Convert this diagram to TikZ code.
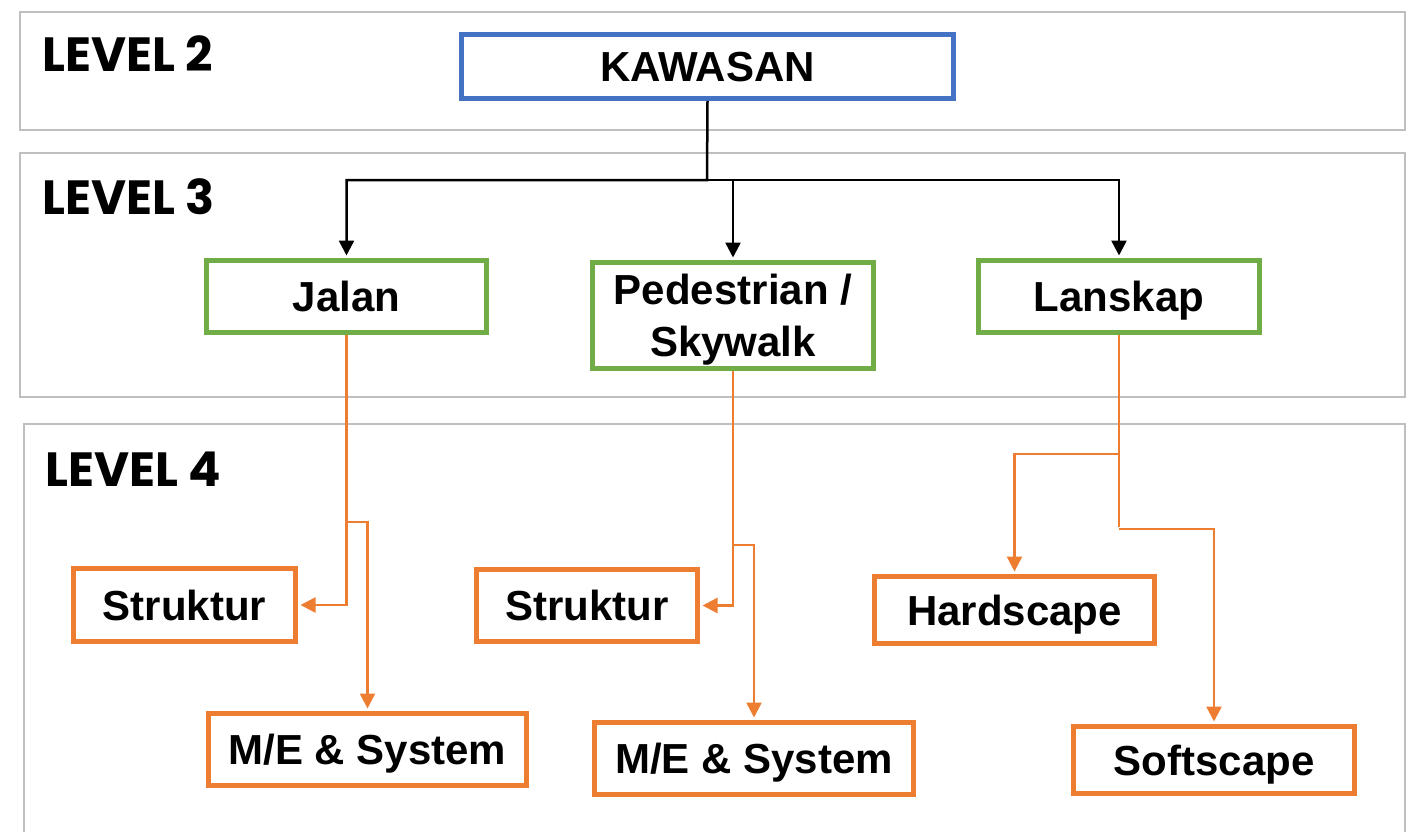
\documentclass[tikz,border=0pt]{standalone}
\usepackage{fontspec}
\setmainfont{Liberation Sans}
\newfontfamily\levelfont{Poppins}
\usepackage{xcolor}
\usepackage{tikz}
\usetikzlibrary{arrows.meta}
\definecolor{kblue}{HTML}{4472C4}
\definecolor{kgreen}{HTML}{70AD47}
\definecolor{korange}{HTML}{ED7D31}
\definecolor{kgray}{HTML}{BFBFBF}
\newcommand{\lvl}[1]{{\levelfont\bfseries\fontsize{48pt}{56pt}\selectfont #1}}

\begin{document}
\begin{tikzpicture}[x=1pt,y=-1pt,
		>={Triangle[length=15pt,width=15pt]},
		panel/.style={rectangle,draw=kgray,line width=1.5pt},
		levelbox/.style={rectangle,line width=5pt,fill=white,inner sep=0pt,
			font=\bfseries\fontsize{42pt}{52pt}\selectfont,text height=30pt,text depth=0pt},
		bluebox/.style={levelbox,draw=kblue},
		greenbox/.style={levelbox,draw=kgreen},
		orangebox/.style={levelbox,draw=korange},
		blackline/.style={draw=black,line width=2.5pt,shorten >=2.5pt},
		orangeline/.style={draw=korange,line width=2.5pt,shorten >=2.5pt}]
			\useasboundingbox (0,0) rectangle (1411,832);
			%panels
			\node at (712.5,71) (paneltwo) [panel, minimum width=1385pt, minimum height=118pt] {};
			\node at (712.5,275) (panelthree) [panel, minimum width=1385pt, minimum height=244pt] {};
			\node at (714.5,640) (panelfour) [panel, minimum width=1381pt, minimum height=432pt] {};
			\node [anchor=base west, inner sep=0pt] at (42,72) (lvltwo) {\lvl{LEVEL 2}};
			\node [anchor=base west, inner sep=0pt] at (42,214) (lvlthree) {\lvl{LEVEL 3}};
			\node [anchor=base west, inner sep=0pt] at (45,486) (lvlfour) {\lvl{LEVEL 4}};

			%level 2
			\node at (707.5,66.5) (kawasan) [bluebox, minimum width=492pt, minimum height=64pt] {KAWASAN};
			%level 3
			\node at (346.5,296.5) (jalan) [greenbox, minimum width=280pt, minimum height=72pt] {Jalan};
			\node at (733,315.5) (pedestrian) [greenbox, minimum width=281pt, minimum height=106pt, text height=82pt, align=center] {Pedestrian /\\Skywalk};
			\node at (1119,296.5) (lanskap) [greenbox, minimum width=281pt, minimum height=72pt] {Lanskap};
			%level 4
			\node at (184.5,605) (strukturjalan) [orangebox, minimum width=222pt, minimum height=73pt] {Struktur};
			\node at (367.5,749.5) (mejalan) [orangebox, minimum width=318pt, minimum height=72pt] {M/E \& System};
			\node at (587,605.5) (strukturped) [orangebox, minimum width=221pt, minimum height=72pt] {Struktur};
			\node at (754,758.5) (meped) [orangebox, minimum width=319pt, minimum height=72pt] {M/E \& System};
			\node at (1014.5,610) (hardscape) [orangebox, minimum width=280pt, minimum height=67pt] {Hardscape};
			\node at (1214,760) (softscape) [orangebox, minimum width=281pt, minimum height=67pt] {Softscape};

			%branch points
			\coordinate (kawasansplit) at (707,180);
			\coordinate (jalansplit) at (346.5,522);
			\coordinate (pedsplit) at (733,545);
			\coordinate (lanskapsplita) at (1119,454);
			\coordinate (lanskapsplitb) at (1119,529);

			\draw [blackline,->] (kawasan.south) -- (kawasansplit) -| (jalan.north);
			\draw [blackline,->] (kawasansplit) -| (pedestrian.north);
			\draw [blackline,->] (kawasansplit) -| (lanskap.north);

			\draw [orangeline,->] (jalan.south) |- (strukturjalan.east);
			\draw [orangeline,->] (jalansplit) -| (mejalan.north);
			\draw [orangeline,->] (pedestrian.south) |- (strukturped.east);
			\draw [orangeline,->] (pedsplit) -| (meped.north);
			\draw [orangeline] (lanskap.south) -- (lanskapsplitb);
			\draw [orangeline,->] (lanskapsplita) -| (hardscape.north);
			\draw [orangeline,->] (lanskapsplitb) -| (softscape.north);
		\end{tikzpicture}
\end{document}
